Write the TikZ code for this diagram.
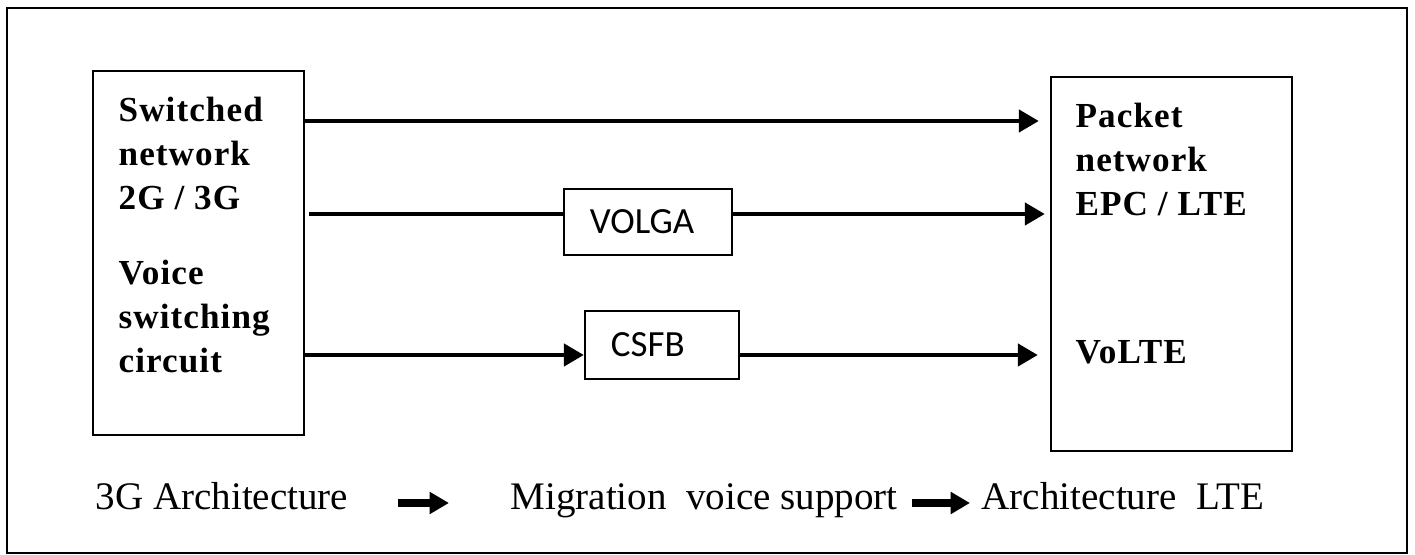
\documentclass[tikz,border=0pt]{standalone}
\usepackage{fontspec}
\setmainfont{Liberation Serif}
\newfontfamily\gatefont{Carlito}
\newfontfamily\netfont[LetterSpace=3]{Liberation Serif}
\usepackage{tikz}
\usetikzlibrary{positioning,arrows.meta,calc}
\tikzset{
netnode/.style={rectangle, draw=black, line width=0.6pt, inner sep=0pt},
gatenode/.style={rectangle, draw=black, line width=0.6pt, inner xsep=0.26cm, align=left, font=\gatefont\fontsize{10.5}{12}\selectfont},
nettext/.style={inner sep=0pt, align=left, anchor=north west, font=\netfont\bfseries\fontsize{10}{12.5}\selectfont},
archtext/.style={inner sep=0pt, anchor=base west, font=\fontsize{11.1}{13}\selectfont},
flow/.style={line width=1.4pt, -{Triangle[length=5.7pt,width=6.2pt]}},
plain/.style={line width=1.4pt},
fat/.style={line width=2pt, -{Triangle[length=5.5pt,width=6pt]}}
}

\begin{document}
\begin{tikzpicture}[x=0.01cm, y=-0.01cm]
\useasboundingbox (0,0) rectangle (1415,555);

% outer frame
\draw[line width=0.6pt] (7,8) rectangle (1407,553);

%network boxes
\node[netnode, minimum width=2.11cm, minimum height=3.64cm] (sw) at (198.5,253) {};
\node[netnode, minimum width=2.41cm, minimum height=3.74cm] (pk) at (1171.5,264) {};
\node[nettext] (swtxt) at (118,96) {Switched\\network\\2G / 3G};
\node[nettext] (voice) at (118,259) {Voice\\switching\\circuit};
\node[nettext] (pktxt) at (1075,102) {Packet\\network\\EPC / LTE};
\node[nettext] (volte) at (1075,340) {VoLTE};

%migration boxes
\node[gatenode, text width=1.16cm, minimum height=0.66cm] (volga) at (648,222) {VOLGA};
\node[gatenode, text width=1.02cm, minimum height=0.68cm] (csfb) at (662,345) {CSFB};

\coordinate (ya) at (0,121);
\coordinate (yb) at (0,214);
\coordinate (yc) at (0,355);
\coordinate (yd) at (0,503);

\draw[flow, shorten >=0.11cm] (sw.east |- ya) -- (pk.west |- ya);
\draw[plain, shorten <=0.04cm] (sw.east |- yb) -- (volga.west |- yb);
\draw[flow, shorten >=0.05cm] (volga.east |- yb) -- (pk.west |- yb);
\draw[flow] (sw.east |- yc) -- (csfb.west |- yc);
\draw[flow, shorten >=0.12cm] (csfb.east |- yc) -- (pk.west |- yc);

%bottom line
\node[archtext] (arch3g) at (95,510) {3G Architecture};
\node[archtext] (migr) at (510,510) {Migration\ \ voice\ support};
\node[archtext] (archlte) at (981,510) {Architecture\ \ LTE};

\draw[fat, shorten <=0.49cm, shorten >=0.61cm] (arch3g.east |- yd) -- (migr.west |- yd);
\draw[fat, shorten <=0.14cm, shorten >=0.11cm] (migr.east |- yd) -- (archlte.west |- yd);

\end{tikzpicture}
\end{document}
